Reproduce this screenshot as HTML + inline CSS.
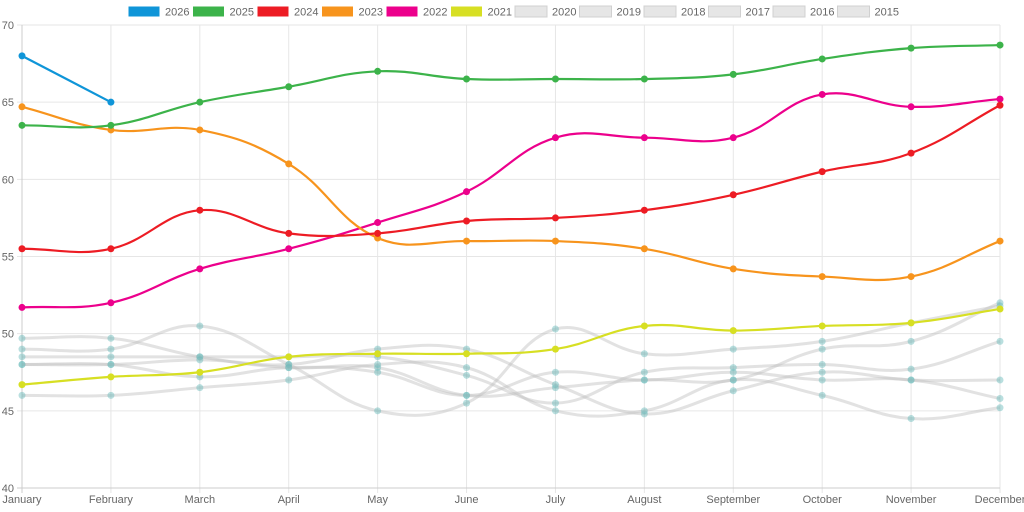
<!DOCTYPE html>
<html><head><meta charset="utf-8"><style>
body{margin:0;background:#fff;width:1024px;height:512px;overflow:hidden}
svg{display:block;font-family:"Liberation Sans",sans-serif}
</style></head><body>
<svg id="s" width="1024" height="512" xmlns="http://www.w3.org/2000/svg"></svg>
<script>
const s=document.getElementById('s');let h='';
const X=i=>22+i*(978/11), Y=v=>488-(v-40)*(463/30);
// grid
for(let i=0;i<12;i++){h+=`<line x1="${X(i)}" y1="25" x2="${X(i)}" y2="493" stroke="#e6e6e6"/>`;}
for(let v=40;v<=70;v+=5){h+=`<line x1="17" y1="${Y(v)}" x2="1000" y2="${Y(v)}" stroke="#e6e6e6"/><text x="14" y="${Y(v)+4}" font-size="11" fill="#666" text-anchor="end">${v}</text>`;}
h+=`<line x1="22" y1="25" x2="22" y2="493" stroke="#ccc"/><line x1="17" y1="488" x2="1000" y2="488" stroke="#ccc"/>`;
const months=['January','February','March','April','May','June','July','August','September','October','November','December'];
months.forEach((m,i)=>h+=`<text x="${X(i)}" y="503" font-size="11" fill="#666" text-anchor="middle">${m}</text>`);
function path(d){const p=d.map((v,i)=>[X(i),Y(v)]);let t=0.4,str=`M${p[0][0]},${p[0][1]}`;
 const cp=[];for(let i=0;i<p.length;i++){const pr=p[i-1]||p[i],nx=p[i+1]||p[i],c=p[i];
  const d01=Math.hypot(c[0]-pr[0],c[1]-pr[1]),d12=Math.hypot(nx[0]-c[0],nx[1]-c[1]);
  let fa=d01/(d01+d12)||0,fb=d12/(d01+d12)||0;fa*=t;fb*=t;
  cp.push([[c[0]-fa*(nx[0]-pr[0]),c[1]-fa*(nx[1]-pr[1])],[c[0]+fb*(nx[0]-pr[0]),c[1]+fb*(nx[1]-pr[1])]]);}
 for(let i=1;i<p.length;i++){str+=` C${cp[i-1][1][0]},${cp[i-1][1][1]} ${cp[i][0][0]},${cp[i][0][1]} ${p[i][0]},${p[i][1]}`;}return str;}
const grey=[[49.7,49.7,48.5,47.8,47.8,46,46.5,47,47,49,49.5,52],
[49,49,50.5,48,45,45.5,50.3,48.7,49,49.5,50.7,51.8],
[48.5,48.5,48.5,48.5,48.5,47.3,45.5,47.5,47.8,48,47.7,49.5],
[48,48,48.3,48,49,49,46.7,44.8,46.3,47.5,47,47],
[48,48,47.2,47.8,47.5,46,47.5,47,47.5,47,47,45.8],
[46,46,46.5,47,48,47.8,45,45,47,46,44.5,45.2]];
grey.forEach(d=>{h+=`<path d="${path(d)}" fill="none" stroke="rgba(190,190,190,0.45)" stroke-width="3"/>`;d.forEach((v,i)=>h+=`<circle cx="${X(i)}" cy="${Y(v)}" r="3.5" fill="rgba(100,185,185,0.45)"/>`);});
const ser=[['#d7df23',[46.7,47.2,47.5,48.5,48.7,48.7,49,50.5,50.2,50.5,50.7,51.6]],
['#ec008c',[51.7,52,54.2,55.5,57.2,59.2,62.7,62.7,62.7,65.5,64.7,65.2]],
['#f7941d',[64.7,63.2,63.2,61,56.2,56,56,55.5,54.2,53.7,53.7,56]],
['#ed1c24',[55.5,55.5,58,56.5,56.5,57.3,57.5,58,59,60.5,61.7,64.8]],
['#3cb34a',[63.5,63.5,65,66,67,66.5,66.5,66.5,66.8,67.8,68.5,68.7]],
['#0f95d8',[68,65]]];
ser.forEach(([c,d])=>{h+=`<path d="${path(d)}" fill="none" stroke="${c}" stroke-width="2.2"/>`;d.forEach((v,i)=>h+=`<circle cx="${X(i)}" cy="${Y(v)}" r="3.5" fill="${c}"/>`);});
const leg=[['2026','#0f95d8'],['2025','#3cb34a'],['2024','#ed1c24'],['2023','#f7941d'],['2022','#ec008c'],['2021','#d7df23'],['2020'],['2019'],['2018'],['2017'],['2016'],['2015']];
leg.forEach(([t,c],i)=>{const x=128+i*64.5;h+=`<rect x="${x}" y="6" width="32" height="11" fill="${c||'#e6e6e6'}" stroke="${c?'#fff':'#d0d0d0'}" stroke-width="1"/><text x="${x+37}" y="15.5" font-size="11" fill="#666">${t}</text>`;});
s.innerHTML=h;
</script>
</body></html>
